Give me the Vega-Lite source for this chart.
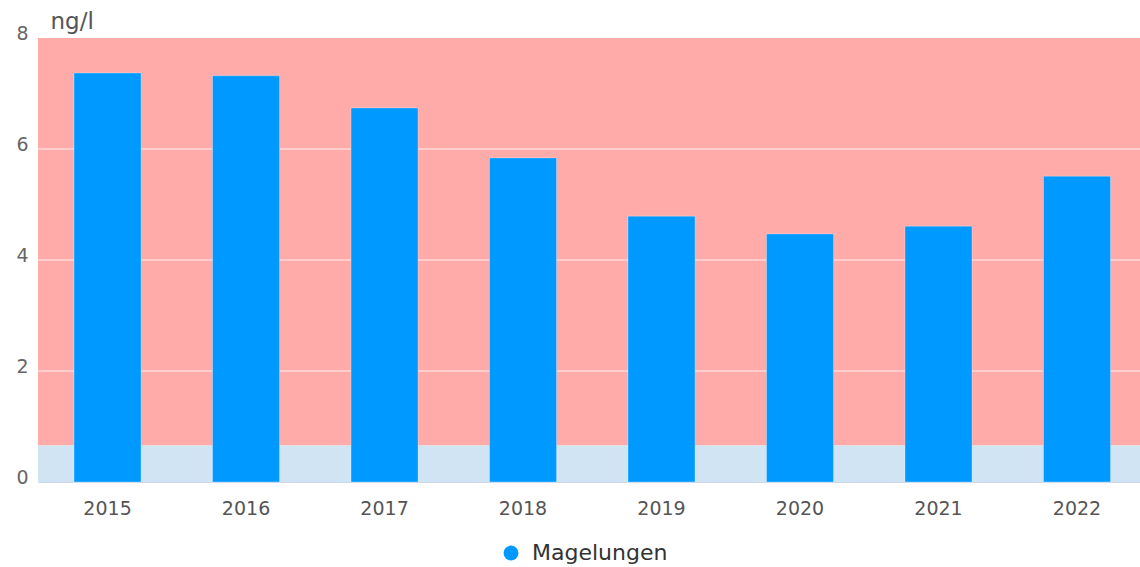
{
  "$schema": "https://vega.github.io/schema/vega-lite/v6.json",
  "width": 1102,
  "height": 444,
  "autosize": {"type": "none"},
  "padding": {"left": 38, "top": 38, "right": 0, "bottom": 85},
  "background": "white",
  "config": {
    "view": {"stroke": null},
    "font": "DejaVu Sans",
    "axisY": {
      "grid": false,
      "ticks": false,
      "domain": false,
      "format": "d",
      "labelColor": "#666666",
      "labelFontSize": 19,
      "labelPadding": 10,
      "labelOffset": -5,
      "titleAngle": 0,
      "titleAlign": "left",
      "titleBaseline": "alphabetic",
      "titleX": 12,
      "titleY": -10,
      "titleFontWeight": "normal",
      "titleFontSize": 23,
      "titleColor": "#555555"
    },
    "axisX": {
      "grid": false,
      "ticks": false,
      "domainColor": "#ccd6eb",
      "domainWidth": 1,
      "labelAngle": 0,
      "labelFontSize": 19,
      "labelColor": "#555555",
      "labelPadding": 17,
      "title": null
    }
  },
  "datasets": {
    "bars": [
      {"year": "2015", "value": 7.37, "series": "Magelungen"},
      {"year": "2016", "value": 7.32, "series": "Magelungen"},
      {"year": "2017", "value": 6.74, "series": "Magelungen"},
      {"year": "2018", "value": 5.84, "series": "Magelungen"},
      {"year": "2019", "value": 4.79, "series": "Magelungen"},
      {"year": "2020", "value": 4.47, "series": "Magelungen"},
      {"year": "2021", "value": 4.61, "series": "Magelungen"},
      {"year": "2022", "value": 5.51, "series": "Magelungen"}
    ],
    "bands": [
      {"from": 0, "to": 0.66, "zone": "low"},
      {"from": 0.66, "to": 8, "zone": "high"}
    ],
    "grid": [{"v": 2}, {"v": 4}, {"v": 6}]
  },
  "layer": [
    {
      "data": {"name": "bands"},
      "mark": {"type": "rect"},
      "encoding": {
        "y": {"field": "from", "type": "quantitative", "title": "ng/l"},
        "y2": {"field": "to"},
        "fill": {
          "field": "zone",
          "type": "nominal",
          "scale": {"domain": ["low", "high"], "range": ["#d0e4f3", "#ffabaa"]},
          "legend": null
        }
      }
    },
    {
      "data": {"name": "grid"},
      "mark": {"type": "rule", "color": "#ffffff", "strokeWidth": 1, "opacity": 0.8},
      "encoding": {
        "y": {"field": "v", "type": "quantitative", "title": "ng/l"}
      }
    },
    {
      "data": {"name": "bars"},
      "mark": {"type": "bar", "stroke": "#ffffff", "strokeWidth": 1, "strokeOpacity": 0.3},
      "encoding": {
        "x": {
          "field": "year",
          "type": "ordinal",
          "scale": {"paddingInner": 0.516, "paddingOuter": 0.2365, "align": 0.55}
        },
        "y": {
          "field": "value",
          "type": "quantitative",
          "title": "ng/l",
          "scale": {"domain": [0, 8], "nice": false},
          "axis": {"values": [0, 2, 4, 6, 8]}
        },
        "color": {
          "field": "series",
          "type": "nominal",
          "scale": {"range": ["#0099ff"]},
          "legend": {
            "title": null,
            "orient": "none",
            "legendX": 462,
            "legendY": 504,
            "symbolType": "circle",
            "symbolSize": 220,
            "symbolStrokeWidth": 0,
            "labelFontSize": 22,
            "labelColor": "#333333",
            "labelOffset": 10
          }
        }
      }
    }
  ]
}
